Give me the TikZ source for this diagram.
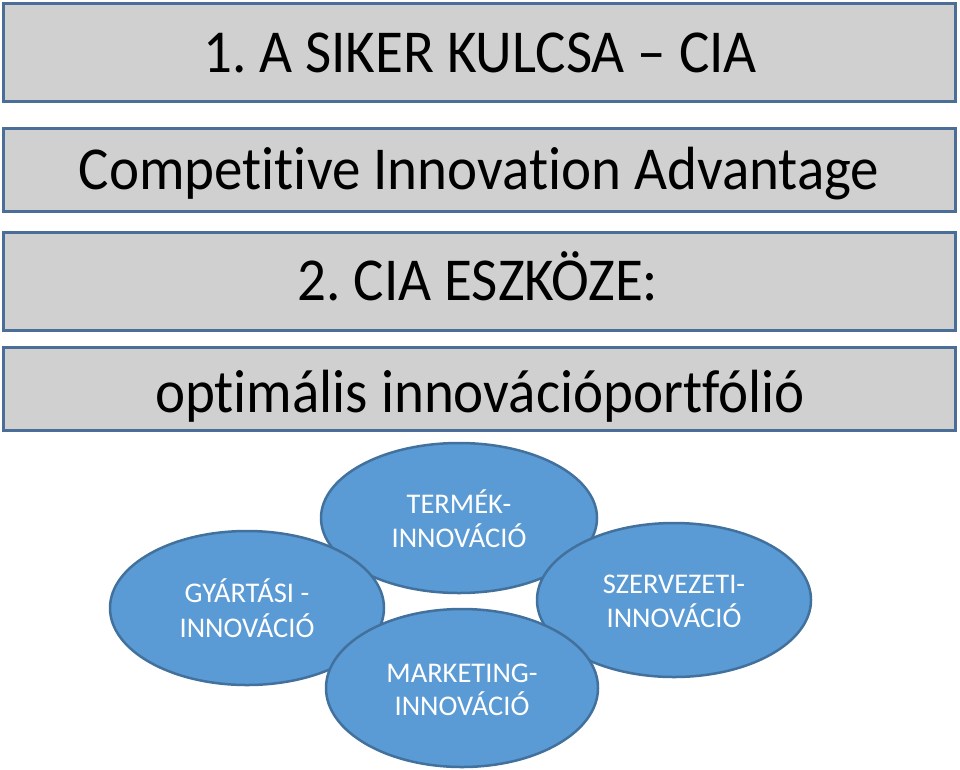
\documentclass[tikz,border=0pt]{standalone}
\usepackage{fontspec}
\setmainfont{Carlito}[Ligatures={NoCommon,NoContextual}]
\frenchspacing
\usetikzlibrary{shapes.geometric}
\definecolor{boxfill}{RGB}{208,208,208}
\definecolor{boxline}{RGB}{74,110,152}
\definecolor{ellfill}{RGB}{91,155,213}
\definecolor{ellline}{RGB}{65,113,156}
\tikzset{
  bar/.style={draw=boxline, fill=boxfill, line width=3pt},
  bartext/.style={anchor=base, inner sep=0pt, transform shape, yscale=1.07, font=\fontsize{57}{60}\selectfont, text=black},
  oval/.style={draw=ellline, fill=ellfill, line width=2.5pt},
  ovaltext/.style={anchor=base, inner sep=0pt, font=\fontsize{28.5}{30}\selectfont, text=white}
}
\begin{document}
\begin{tikzpicture}[x=1pt,y=-1pt]
\useasboundingbox (0,0) rectangle (960,769);
% bars
\draw[bar] (3,3) rectangle (955,101);
\draw[bar] (3,128) rectangle (955,211);
\draw[bar] (3,232) rectangle (955,330);
\draw[bar] (3,347) rectangle (955,430);
\node[bartext] (t1) at (480,72) {1. A SIKER KULCSA – CIA};
\node[bartext] (t2) at (479,189) {Competitive Innovation Advantage};
\node[bartext] (t3) at (478,300) {2. CIA ESZKÖZE:};
\node[bartext] (t4) at (480,412) {optimális innovációportfólió};
% ovals
\draw[oval] (459,518) ellipse [x radius=138, y radius=75];
\draw[oval] (247,608) ellipse [x radius=137, y radius=77];
\draw[oval] (674,600) ellipse [x radius=137, y radius=77];
\draw[oval] (462,688) ellipse [x radius=136, y radius=79];
\node[ovaltext] (e1a) at (459,513) {TERMÉK-};
\node[ovaltext] (e1b) at (459,547) {INNOVÁCIÓ};
\node[ovaltext] (e2a) at (247,602) {GYÁRTÁSI -};
\node[ovaltext] (e2b) at (247,637) {INNOVÁCIÓ};
\node[ovaltext] (e3a) at (674,593) {SZERVEZETI-};
\node[ovaltext] (e3b) at (674,627) {INNOVÁCIÓ};
\node[ovaltext] (e4a) at (462,682) {MARKETING-};
\node[ovaltext] (e4b) at (462,715) {INNOVÁCIÓ};
\end{tikzpicture}
\end{document}
